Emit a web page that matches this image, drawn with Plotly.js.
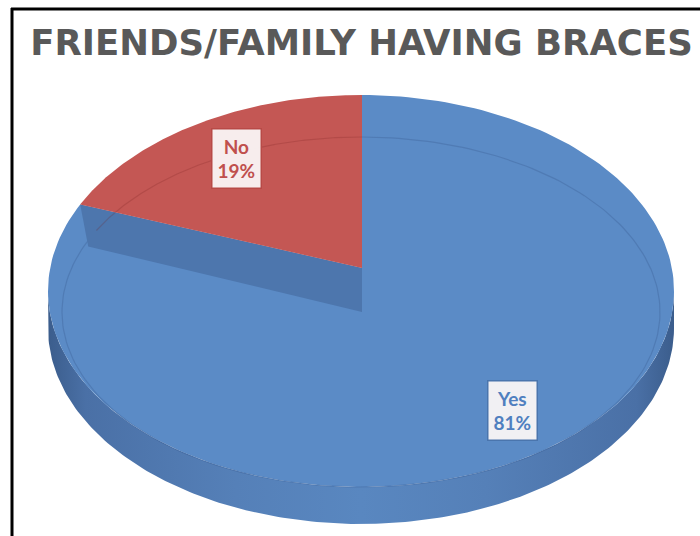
<!DOCTYPE html>
<html><head><meta charset="utf-8">
<script src="https://cdn.plot.ly/plotly-3.0.1.min.js"></script>
<style>html,body{margin:0;padding:0;background:#fff}#chart{width:700px;height:536px}</style>
</head><body><div id="chart"></div>
<script>
// ---- data ----
const chartTitle = 'FRIENDS/FAMILY HAVING BRACES';
const labels = ['Yes', 'No'];
const values = [81, 19];

// ---- style / geometry ----
const topColors = ['#5b8bc6', '#c45754'];
const textColors = ['#4f7fbf', '#c0504d'];
const cx = 361, cy = 291, rx = 313, ry = 196;   // top ellipse
const apex = [362, 268];                          // slice apex (perspective)
const persp = 0.57;                               // vertical foreshortening of slice directions
const depth = 37, cutDepth = 44;
const N = 200;

const total = values.reduce((a, b) => a + b, 0);
function ell(t, dy) { return [cx + rx * Math.sin(t), cy - ry * Math.cos(t) + (dy || 0)]; }
// point on the top rim reached from the apex in the direction of data angle t
function rim(t) {
  const dx = Math.sin(t), dy = -persp * Math.cos(t);
  const ox = (apex[0] - cx) / rx, oy = (apex[1] - cy) / ry;
  const ux = dx / rx, uy = dy / ry;
  const a = ux * ux + uy * uy, b = 2 * (ox * ux + oy * uy), c = ox * ox + oy * oy - 1;
  const s = (-b + Math.sqrt(b * b - 4 * a * c)) / (2 * a);
  return [apex[0] + s * dx, apex[1] + s * dy];
}
function rimArc(t0, t1) {
  const xs = [], ys = [];
  for (let i = 0; i <= N; i++) { const p = rim(t0 + (t1 - t0) * i / N); xs.push(p[0]); ys.push(p[1]); }
  return [xs, ys];
}
function ellArc(t0, t1, dy) {
  const xs = [], ys = [];
  for (let i = 0; i <= N; i++) { const p = ell(t0 + (t1 - t0) * i / N, dy); xs.push(p[0]); ys.push(p[1]); }
  return [xs, ys];
}
function innerArc(t0, t1) {
  const xs = [], ys = [];
  for (let i = 0; i <= N; i++) { const p = rim(t0 + (t1 - t0) * i / N);
    const e = Math.atan2(p[0] - cx, -(p[1] - cy) * rx / ry);
    xs.push(cx + (rx - 14) * Math.sin(e)); ys.push(312 - 175 * Math.cos(e)); }
  return [xs, ys];
}

// slice angles (clockwise from 12 o'clock)
const angles = []; let acc = 0;
values.forEach(v => { const a0 = acc / total * 2 * Math.PI; acc += v; angles.push([a0, acc / total * 2 * Math.PI]); });

const traces = [];
// outer side wall (front half)
{
  const [tx, ty] = ellArc(Math.PI / 2, 3 * Math.PI / 2, 0);
  const [bx, by] = ellArc(3 * Math.PI / 2, Math.PI / 2, depth);
  traces.push({ type: 'scatter', mode: 'lines', x: tx.concat(bx), y: ty.concat(by), fill: 'toself',
    line: { width: 0 }, hoverinfo: 'skip',
    fillgradient: { type: 'horizontal', colorscale: [[0, '#3b5d8c'], [0.06, '#4a70a6'], [0.3, '#5580b8'], [0.5, '#5987c0'], [0.7, '#5580b8'], [0.94, '#4a70a6'], [1, '#3b5d8c']] } });
}
function sliceTop(i) {
  const [a0, a1] = angles[i];
  const [xs, ys] = rimArc(a0, a1);
  return { type: 'scatter', mode: 'lines', x: [apex[0]].concat(xs, [apex[0]]), y: [apex[1]].concat(ys, [apex[1]]),
    fill: 'toself', fillcolor: topColors[i], line: { width: 0 }, hoverinfo: 'skip' };
}
// Yes top
traces.push(sliceTop(0));
{ const [xs, ys] = innerArc(angles[0][0], angles[0][1]);
  traces.push({ type: 'scatter', mode: 'lines', x: xs, y: ys, line: { color: 'rgba(40,70,120,0.22)', width: 1.2 }, hoverinfo: 'skip' }); }
// cut face of Yes slice along the Yes/No boundary
{
  const b = rim(angles[0][1]);
  traces.push({ type: 'scatter', mode: 'lines',
    x: [b[0], apex[0], apex[0], b[0] + 8, b[0]],
    y: [b[1], apex[1], apex[1] + cutDepth, b[1] + cutDepth - 2, b[1]],
    fill: 'toself', fillcolor: '#4d76ad', line: { width: 0 }, hoverinfo: 'skip' });
}
// No top
traces.push(sliceTop(1));
{ const [xs, ys] = innerArc(angles[1][0] + 0.03, angles[1][1]);
  traces.push({ type: 'scatter', mode: 'lines', x: xs, y: ys, line: { color: 'rgba(120,30,30,0.22)', width: 1.2 }, hoverinfo: 'skip' }); }

// labels
const labelPos = [[0.86, 0.74], [0.71, 0.82]];
const annotations = labels.map((l, i) => {
  const [a0, a1] = angles[i]; const m = (a0 + a1) / 2;
  return { x: cx + labelPos[i][0] * rx * Math.sin(m), y: cy - labelPos[i][1] * ry * Math.cos(m),
    xref: 'x', yref: 'y', showarrow: false,
    text: l + '<br>' + Math.round(values[i] / total * 100) + '%',
    font: { family: 'Lato, Carlito, sans-serif', size: 19, color: textColors[i], weight: 'bold' },
    bgcolor: 'rgba(250,246,246,0.95)', bordercolor: i === 0 ? '#4a75ad' : '#b84a47', borderwidth: 1.5, borderpad: 5 };
});

const layout = {
  width: 700, height: 536, margin: { l: 0, r: 0, t: 0, b: 0 },
  paper_bgcolor: '#fff', plot_bgcolor: '#fff', showlegend: false,
  title: { text: chartTitle, font: { family: '"DejaVu Sans", sans-serif', size: 35.5, color: '#595959', weight: 'bold' },
    x: 361.5 / 700, xanchor: 'center', y: 1 - 43 / 536, yanchor: 'middle', yref: 'container', xref: 'container' },
  xaxis: { range: [0, 700], visible: false, fixedrange: true },
  yaxis: { range: [536, 0], visible: false, fixedrange: true },
  annotations: annotations,
  shapes: [
    { type: 'line', xref: 'x', yref: 'y', x0: 12, x1: 12, y0: 8, y1: 536, line: { color: '#000', width: 3 } },
    { type: 'line', xref: 'x', yref: 'y', x0: 11, x1: 700, y0: 9, y1: 9, line: { color: '#000', width: 3 } }
  ]
};
Plotly.newPlot('chart', traces, layout, { staticPlot: true, displayModeBar: false });
</script></body></html>
